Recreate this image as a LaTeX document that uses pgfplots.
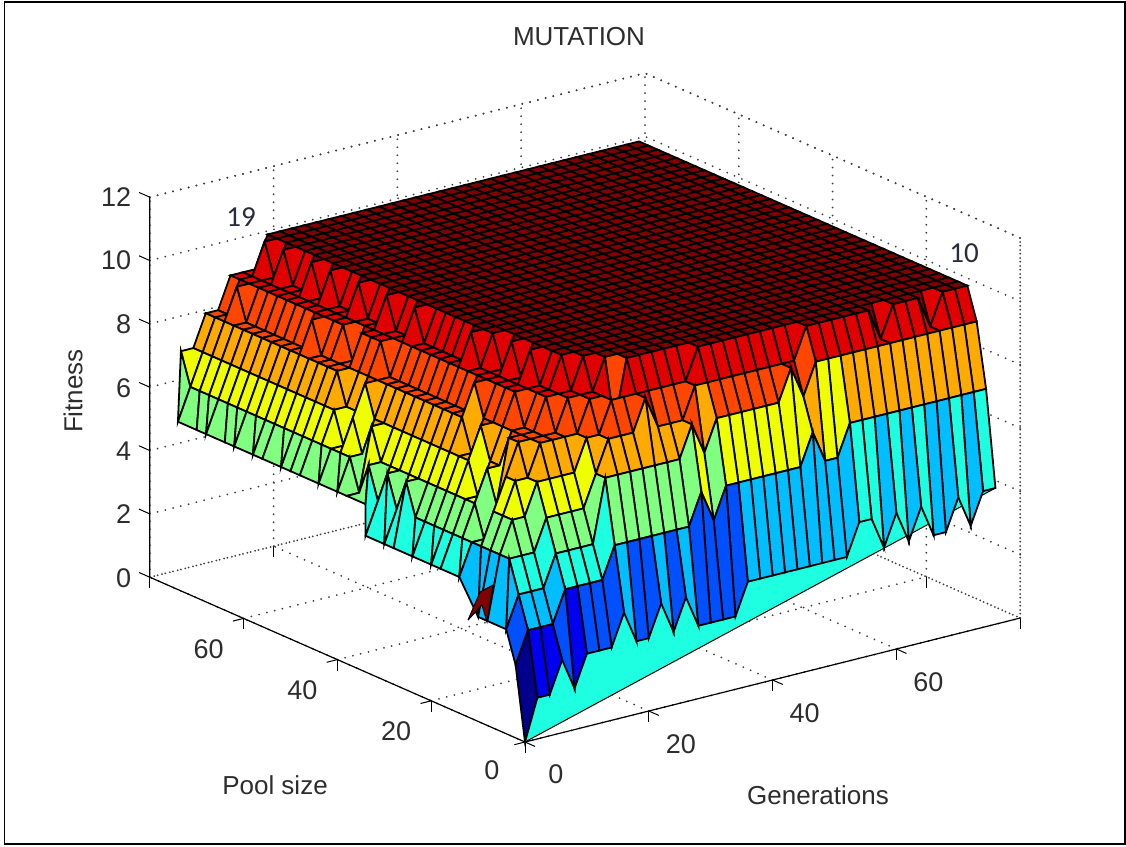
\documentclass[border=0pt]{standalone}
\usepackage{pgfplots}
\pgfplotsset{compat=1.18}
\usepackage{fontspec}
\setmainfont{Liberation Sans}
\newfontfamily\anno{Carlito}
\definecolor{txt}{RGB}{45,45,45}
\begin{document}
\begin{tikzpicture}
\useasboundingbox (0pt,0pt) rectangle (1126pt,-846pt);
\draw[line width=1.6pt] (4.5pt,-2pt) rectangle (1125pt,-844pt);
\begin{axis}[
  at={(525pt,-742pt)},anchor=origin,
  x={(6.19pt,1.55pt)},y={(-4.69pt,2.06pt)},z={(0pt,31.67pt)},
  xmin=0,xmax=80,ymin=0,ymax=80,zmin=0,zmax=12,
  xtick={0,20,40,60},ytick={0,20,40,60},ztick={0,2,4,6,8,10,12},
  axis line style={draw=none},
  grid=major,
  grid style={line width=2pt,line cap=round,dash pattern=on 0pt off 8pt,black!75},
  xtick pos=lower,ytick pos=lower,ztick pos=lower,
  tick align=outside,
  major tick length=11pt,
  tick style={black,line width=1pt},
  ztick style={draw=none},
  /pgf/number format/assume math mode=true,
  tick label style={font=\fontsize{27}{27}\selectfont,text=txt},
  xticklabel style={xshift=12pt,yshift=-14pt},
  yticklabel style={xshift=-12pt,yshift=-12pt},
  zticklabel style={xshift=-5pt,yshift=-6pt},
  clip=false,
  point meta min=0.3,point meta max=10.3,
  colormap={lev}{rgb255(0)=(0,0,140);rgb255(1)=(0,0,240);rgb255(2)=(0,80,255);rgb255(3)=(0,190,255);rgb255(4)=(30,255,225);rgb255(5)=(128,255,128);rgb255(6)=(240,255,0);rgb255(7)=(255,170,0);rgb255(8)=(255,70,0);rgb255(9)=(225,0,0);rgb255(10)=(128,0,0)},
]
\draw[line width=2pt,line cap=round,dash pattern=on 0pt off 8pt,black!75]
  (axis cs:0,80,12)--(axis cs:80,80,12)--(axis cs:80,0,12)--(axis cs:80,0,0)--(axis cs:80,80,0)--(axis cs:0,80,0);
\draw[line width=2pt,line cap=round,dash pattern=on 0pt off 8pt,black!75]
  (axis cs:80,80,0)--(axis cs:80,80,12);
\draw[line width=1.2pt] (axis cs:0,80,12)--(axis cs:0,80,0)--(axis cs:0,0,0)--(axis cs:80,0,0);
\draw[line width=1pt] (axis cs:0,80,0)--(axis cs:0,82.3,0) (axis cs:0,80,2)--(axis cs:0,82.3,2) (axis cs:0,80,4)--(axis cs:0,82.3,4) (axis cs:0,80,6)--(axis cs:0,82.3,6) (axis cs:0,80,8)--(axis cs:0,82.3,8) (axis cs:0,80,10)--(axis cs:0,82.3,10) (axis cs:0,80,12)--(axis cs:0,82.3,12);
\addplot3[patch,patch type=triangle,shader=flat,draw=black,line width=1pt,point meta=explicit]
  coordinates {(0,0,0)[4.3] (76,0,4.3)[4.3] (0,0,5)[4.3]};
\addplot3[surf,shader=flat corner,draw=black,line width=1.8pt,mesh/cols=39,z buffer=sort,point meta=z]
  table[row sep=crcr,header=false,x expr={2*mod(\coordindex,39)},y expr={2*floor(\coordindex/39)},z index=0] {
0.0\\1.3\\1.3\\2.3\\1.3\\2.3\\2.3\\2.3\\3.3\\2.3\\2.3\\3.3\\2.3\\3.3\\2.3\\2.3\\2.3\\2.3\\3.3\\3.3\\3.3\\3.3\\3.3\\3.3\\3.3\\3.3\\3.3\\4.3\\4.3\\3.3\\4.3\\3.3\\4.3\\3.3\\3.3\\4.3\\3.3\\4.3\\4.3\\
2.3\\3.3\\3.3\\3.3\\4.3\\4.3\\4.3\\4.3\\5.3\\5.3\\5.3\\5.3\\5.3\\5.3\\5.3\\6.3\\5.3\\6.3\\6.3\\6.3\\6.3\\6.3\\6.3\\6.3\\7.3\\6.3\\6.3\\7.3\\7.3\\7.3\\7.3\\7.3\\7.3\\7.3\\7.3\\7.3\\7.3\\7.3\\7.3\\
3.3\\4.3\\4.3\\4.3\\5.3\\5.3\\5.3\\5.3\\7.3\\7.3\\7.3\\7.3\\7.3\\7.3\\7.3\\8.3\\7.3\\8.3\\8.3\\8.3\\8.3\\8.3\\8.3\\9.3\\8.3\\9.3\\9.3\\9.3\\9.3\\9.3\\9.3\\9.3\\9.3\\9.3\\9.3\\9.3\\9.3\\9.3\\9.3\\
3.3\\5.3\\5.3\\5.3\\6.3\\6.3\\6.3\\6.3\\7.3\\8.3\\8.3\\8.3\\9.3\\8.3\\8.3\\8.3\\9.3\\9.3\\9.3\\9.3\\9.3\\9.3\\9.3\\9.3\\9.3\\10.3\\10.3\\10.3\\10.3\\10.3\\10.3\\9.3\\10.3\\10.3\\10.3\\9.3\\10.3\\10.3\\10.3\\
3.3\\5.3\\6.3\\6.3\\7.3\\7.3\\7.3\\7.3\\8.3\\8.3\\9.3\\9.3\\9.3\\9.3\\9.3\\9.3\\9.3\\10.3\\10.3\\10.3\\10.3\\10.3\\10.3\\10.3\\10.3\\10.3\\10.3\\10.3\\10.3\\10.3\\10.3\\10.3\\10.3\\10.3\\10.3\\10.3\\10.3\\10.3\\10.3\\
3.3\\5.3\\6.3\\7.3\\7.3\\8.3\\8.3\\8.3\\8.3\\9.3\\9.3\\8.3\\10.3\\10.3\\10.3\\10.3\\10.3\\10.3\\10.3\\10.3\\10.3\\10.3\\10.3\\10.3\\10.3\\10.3\\10.3\\10.3\\10.3\\10.3\\10.3\\10.3\\10.3\\10.3\\10.3\\10.3\\10.3\\10.3\\10.3\\
3.3\\5.3\\6.3\\7.3\\8.3\\8.3\\8.3\\8.3\\9.3\\9.3\\9.3\\10.3\\10.3\\10.3\\10.3\\10.3\\10.3\\10.3\\10.3\\10.3\\10.3\\10.3\\10.3\\10.3\\10.3\\10.3\\10.3\\10.3\\10.3\\10.3\\10.3\\10.3\\10.3\\10.3\\10.3\\10.3\\10.3\\10.3\\10.3\\
4.3\\5.3\\5.3\\6.3\\8.3\\8.3\\8.3\\9.3\\9.3\\9.3\\10.3\\10.3\\10.3\\10.3\\10.3\\10.3\\10.3\\10.3\\10.3\\10.3\\10.3\\10.3\\10.3\\10.3\\10.3\\10.3\\10.3\\10.3\\10.3\\10.3\\10.3\\10.3\\10.3\\10.3\\10.3\\10.3\\10.3\\10.3\\10.3\\
4.3\\5.3\\6.3\\7.3\\7.3\\8.3\\8.3\\9.3\\9.3\\10.3\\10.3\\10.3\\10.3\\10.3\\10.3\\10.3\\10.3\\10.3\\10.3\\10.3\\10.3\\10.3\\10.3\\10.3\\10.3\\10.3\\10.3\\10.3\\10.3\\10.3\\10.3\\10.3\\10.3\\10.3\\10.3\\10.3\\10.3\\10.3\\10.3\\
4.3\\5.3\\6.3\\6.3\\7.3\\8.3\\9.3\\9.3\\9.3\\10.3\\10.3\\10.3\\10.3\\10.3\\10.3\\10.3\\10.3\\10.3\\10.3\\10.3\\10.3\\10.3\\10.3\\10.3\\10.3\\10.3\\10.3\\10.3\\10.3\\10.3\\10.3\\10.3\\10.3\\10.3\\10.3\\10.3\\10.3\\10.3\\10.3\\
4.3\\5.3\\6.3\\7.3\\8.3\\8.3\\9.3\\9.3\\10.3\\10.3\\10.3\\10.3\\10.3\\10.3\\10.3\\10.3\\10.3\\10.3\\10.3\\10.3\\10.3\\10.3\\10.3\\10.3\\10.3\\10.3\\10.3\\10.3\\10.3\\10.3\\10.3\\10.3\\10.3\\10.3\\10.3\\10.3\\10.3\\10.3\\10.3\\
4.3\\5.3\\6.3\\7.3\\7.3\\8.3\\9.3\\9.3\\9.3\\10.3\\10.3\\10.3\\10.3\\10.3\\10.3\\10.3\\10.3\\10.3\\10.3\\10.3\\10.3\\10.3\\10.3\\10.3\\10.3\\10.3\\10.3\\10.3\\10.3\\10.3\\10.3\\10.3\\10.3\\10.3\\10.3\\10.3\\10.3\\10.3\\10.3\\
4.3\\5.3\\6.3\\7.3\\8.3\\9.3\\9.3\\9.3\\10.3\\10.3\\10.3\\10.3\\10.3\\10.3\\10.3\\10.3\\10.3\\10.3\\10.3\\10.3\\10.3\\10.3\\10.3\\10.3\\10.3\\10.3\\10.3\\10.3\\10.3\\10.3\\10.3\\10.3\\10.3\\10.3\\10.3\\10.3\\10.3\\10.3\\10.3\\
4.3\\5.3\\6.3\\7.3\\8.3\\8.3\\9.3\\9.3\\9.3\\10.3\\10.3\\10.3\\10.3\\10.3\\10.3\\10.3\\10.3\\10.3\\10.3\\10.3\\10.3\\10.3\\10.3\\10.3\\10.3\\10.3\\10.3\\10.3\\10.3\\10.3\\10.3\\10.3\\10.3\\10.3\\10.3\\10.3\\10.3\\10.3\\10.3\\
4.3\\6.3\\6.3\\7.3\\8.3\\8.3\\9.3\\9.3\\10.3\\10.3\\10.3\\10.3\\10.3\\10.3\\10.3\\10.3\\10.3\\10.3\\10.3\\10.3\\10.3\\10.3\\10.3\\10.3\\10.3\\10.3\\10.3\\10.3\\10.3\\10.3\\10.3\\10.3\\10.3\\10.3\\10.3\\10.3\\10.3\\10.3\\10.3\\
4.3\\5.3\\6.3\\7.3\\8.3\\8.3\\9.3\\10.3\\10.3\\10.3\\10.3\\10.3\\10.3\\10.3\\10.3\\10.3\\10.3\\10.3\\10.3\\10.3\\10.3\\10.3\\10.3\\10.3\\10.3\\10.3\\10.3\\10.3\\10.3\\10.3\\10.3\\10.3\\10.3\\10.3\\10.3\\10.3\\10.3\\10.3\\10.3\\
4.3\\6.3\\6.3\\7.3\\8.3\\8.3\\9.3\\9.3\\10.3\\10.3\\10.3\\10.3\\10.3\\10.3\\10.3\\10.3\\10.3\\10.3\\10.3\\10.3\\10.3\\10.3\\10.3\\10.3\\10.3\\10.3\\10.3\\10.3\\10.3\\10.3\\10.3\\10.3\\10.3\\10.3\\10.3\\10.3\\10.3\\10.3\\10.3\\
4.3\\5.3\\6.3\\7.3\\8.3\\8.3\\9.3\\9.3\\10.3\\10.3\\10.3\\10.3\\10.3\\10.3\\10.3\\10.3\\10.3\\10.3\\10.3\\10.3\\10.3\\10.3\\10.3\\10.3\\10.3\\10.3\\10.3\\10.3\\10.3\\10.3\\10.3\\10.3\\10.3\\10.3\\10.3\\10.3\\10.3\\10.3\\10.3\\
5.3\\6.3\\6.3\\7.3\\8.3\\8.3\\9.3\\9.3\\10.3\\10.3\\10.3\\10.3\\10.3\\10.3\\10.3\\10.3\\10.3\\10.3\\10.3\\10.3\\10.3\\10.3\\10.3\\10.3\\10.3\\10.3\\10.3\\10.3\\10.3\\10.3\\10.3\\10.3\\10.3\\10.3\\10.3\\10.3\\10.3\\10.3\\10.3\\
5.3\\5.3\\7.3\\7.3\\8.3\\8.3\\9.3\\9.3\\10.3\\10.3\\10.3\\10.3\\10.3\\10.3\\10.3\\10.3\\10.3\\10.3\\10.3\\10.3\\10.3\\10.3\\10.3\\10.3\\10.3\\10.3\\10.3\\10.3\\10.3\\10.3\\10.3\\10.3\\10.3\\10.3\\10.3\\10.3\\10.3\\10.3\\10.3\\
5.3\\6.3\\6.3\\7.3\\8.3\\8.3\\9.3\\9.3\\10.3\\10.3\\10.3\\10.3\\10.3\\10.3\\10.3\\10.3\\10.3\\10.3\\10.3\\10.3\\10.3\\10.3\\10.3\\10.3\\10.3\\10.3\\10.3\\10.3\\10.3\\10.3\\10.3\\10.3\\10.3\\10.3\\10.3\\10.3\\10.3\\10.3\\10.3\\
5.3\\6.3\\7.3\\8.3\\8.3\\8.3\\9.3\\10.3\\10.3\\10.3\\10.3\\10.3\\10.3\\10.3\\10.3\\10.3\\10.3\\10.3\\10.3\\10.3\\10.3\\10.3\\10.3\\10.3\\10.3\\10.3\\10.3\\10.3\\10.3\\10.3\\10.3\\10.3\\10.3\\10.3\\10.3\\10.3\\10.3\\10.3\\10.3\\
5.3\\6.3\\6.3\\7.3\\8.3\\9.3\\9.3\\9.3\\10.3\\10.3\\10.3\\10.3\\10.3\\10.3\\10.3\\10.3\\10.3\\10.3\\10.3\\10.3\\10.3\\10.3\\10.3\\10.3\\10.3\\10.3\\10.3\\10.3\\10.3\\10.3\\10.3\\10.3\\10.3\\10.3\\10.3\\10.3\\10.3\\10.3\\10.3\\
5.3\\6.3\\7.3\\7.3\\8.3\\9.3\\9.3\\9.3\\10.3\\10.3\\10.3\\10.3\\10.3\\10.3\\10.3\\10.3\\10.3\\10.3\\10.3\\10.3\\10.3\\10.3\\10.3\\10.3\\10.3\\10.3\\10.3\\10.3\\10.3\\10.3\\10.3\\10.3\\10.3\\10.3\\10.3\\10.3\\10.3\\10.3\\10.3\\
5.3\\6.3\\7.3\\8.3\\8.3\\9.3\\9.3\\10.3\\10.3\\10.3\\10.3\\10.3\\10.3\\10.3\\10.3\\10.3\\10.3\\10.3\\10.3\\10.3\\10.3\\10.3\\10.3\\10.3\\10.3\\10.3\\10.3\\10.3\\10.3\\10.3\\10.3\\10.3\\10.3\\10.3\\10.3\\10.3\\10.3\\10.3\\10.3\\
5.3\\6.3\\7.3\\8.3\\8.3\\8.3\\9.3\\9.3\\10.3\\10.3\\10.3\\10.3\\10.3\\10.3\\10.3\\10.3\\10.3\\10.3\\10.3\\10.3\\10.3\\10.3\\10.3\\10.3\\10.3\\10.3\\10.3\\10.3\\10.3\\10.3\\10.3\\10.3\\10.3\\10.3\\10.3\\10.3\\10.3\\10.3\\10.3\\
5.3\\6.3\\7.3\\8.3\\8.3\\9.3\\9.3\\9.3\\10.3\\10.3\\10.3\\10.3\\10.3\\10.3\\10.3\\10.3\\10.3\\10.3\\10.3\\10.3\\10.3\\10.3\\10.3\\10.3\\10.3\\10.3\\10.3\\10.3\\10.3\\10.3\\10.3\\10.3\\10.3\\10.3\\10.3\\10.3\\10.3\\10.3\\10.3\\
5.3\\6.3\\7.3\\8.3\\8.3\\9.3\\9.3\\10.3\\10.3\\10.3\\10.3\\10.3\\10.3\\10.3\\10.3\\10.3\\10.3\\10.3\\10.3\\10.3\\10.3\\10.3\\10.3\\10.3\\10.3\\10.3\\10.3\\10.3\\10.3\\10.3\\10.3\\10.3\\10.3\\10.3\\10.3\\10.3\\10.3\\10.3\\10.3\\
5.3\\6.3\\7.3\\8.3\\9.3\\9.3\\9.3\\9.3\\10.3\\10.3\\10.3\\10.3\\10.3\\10.3\\10.3\\10.3\\10.3\\10.3\\10.3\\10.3\\10.3\\10.3\\10.3\\10.3\\10.3\\10.3\\10.3\\10.3\\10.3\\10.3\\10.3\\10.3\\10.3\\10.3\\10.3\\10.3\\10.3\\10.3\\10.3\\
5.3\\6.3\\7.3\\8.3\\8.3\\9.3\\9.3\\9.3\\10.3\\10.3\\10.3\\10.3\\10.3\\10.3\\10.3\\10.3\\10.3\\10.3\\10.3\\10.3\\10.3\\10.3\\10.3\\10.3\\10.3\\10.3\\10.3\\10.3\\10.3\\10.3\\10.3\\10.3\\10.3\\10.3\\10.3\\10.3\\10.3\\10.3\\10.3\\
5.3\\6.3\\7.3\\8.3\\8.3\\9.3\\9.3\\10.3\\10.3\\10.3\\10.3\\10.3\\10.3\\10.3\\10.3\\10.3\\10.3\\10.3\\10.3\\10.3\\10.3\\10.3\\10.3\\10.3\\10.3\\10.3\\10.3\\10.3\\10.3\\10.3\\10.3\\10.3\\10.3\\10.3\\10.3\\10.3\\10.3\\10.3\\10.3\\
5.3\\6.3\\7.3\\8.3\\8.3\\9.3\\9.3\\9.3\\10.3\\10.3\\10.3\\10.3\\10.3\\10.3\\10.3\\10.3\\10.3\\10.3\\10.3\\10.3\\10.3\\10.3\\10.3\\10.3\\10.3\\10.3\\10.3\\10.3\\10.3\\10.3\\10.3\\10.3\\10.3\\10.3\\10.3\\10.3\\10.3\\10.3\\10.3\\
5.3\\6.3\\7.3\\8.3\\8.3\\9.3\\9.3\\10.3\\10.3\\10.3\\10.3\\10.3\\10.3\\10.3\\10.3\\10.3\\10.3\\10.3\\10.3\\10.3\\10.3\\10.3\\10.3\\10.3\\10.3\\10.3\\10.3\\10.3\\10.3\\10.3\\10.3\\10.3\\10.3\\10.3\\10.3\\10.3\\10.3\\10.3\\10.3\\
5.3\\6.3\\7.3\\8.3\\8.3\\9.3\\9.3\\9.3\\10.3\\10.3\\10.3\\10.3\\10.3\\10.3\\10.3\\10.3\\10.3\\10.3\\10.3\\10.3\\10.3\\10.3\\10.3\\10.3\\10.3\\10.3\\10.3\\10.3\\10.3\\10.3\\10.3\\10.3\\10.3\\10.3\\10.3\\10.3\\10.3\\10.3\\10.3\\
5.3\\6.3\\7.3\\8.3\\8.3\\9.3\\9.3\\9.3\\10.3\\10.3\\10.3\\10.3\\10.3\\10.3\\10.3\\10.3\\10.3\\10.3\\10.3\\10.3\\10.3\\10.3\\10.3\\10.3\\10.3\\10.3\\10.3\\10.3\\10.3\\10.3\\10.3\\10.3\\10.3\\10.3\\10.3\\10.3\\10.3\\10.3\\10.3\\
5.3\\6.3\\7.3\\8.3\\8.3\\9.3\\9.3\\10.3\\10.3\\10.3\\10.3\\10.3\\10.3\\10.3\\10.3\\10.3\\10.3\\10.3\\10.3\\10.3\\10.3\\10.3\\10.3\\10.3\\10.3\\10.3\\10.3\\10.3\\10.3\\10.3\\10.3\\10.3\\10.3\\10.3\\10.3\\10.3\\10.3\\10.3\\10.3\\
5.3\\6.3\\7.3\\8.3\\9.3\\9.3\\9.3\\9.3\\10.3\\10.3\\10.3\\10.3\\10.3\\10.3\\10.3\\10.3\\10.3\\10.3\\10.3\\10.3\\10.3\\10.3\\10.3\\10.3\\10.3\\10.3\\10.3\\10.3\\10.3\\10.3\\10.3\\10.3\\10.3\\10.3\\10.3\\10.3\\10.3\\10.3\\10.3\\
5.3\\6.3\\7.3\\8.3\\8.3\\9.3\\9.3\\10.3\\10.3\\10.3\\10.3\\10.3\\10.3\\10.3\\10.3\\10.3\\10.3\\10.3\\10.3\\10.3\\10.3\\10.3\\10.3\\10.3\\10.3\\10.3\\10.3\\10.3\\10.3\\10.3\\10.3\\10.3\\10.3\\10.3\\10.3\\10.3\\10.3\\10.3\\10.3\\
5.3\\7.3\\7.3\\8.3\\8.3\\9.3\\9.3\\9.3\\10.3\\10.3\\10.3\\10.3\\10.3\\10.3\\10.3\\10.3\\10.3\\10.3\\10.3\\10.3\\10.3\\10.3\\10.3\\10.3\\10.3\\10.3\\10.3\\10.3\\10.3\\10.3\\10.3\\10.3\\10.3\\10.3\\10.3\\10.3\\10.3\\10.3\\10.3\\
};
\addplot3[patch,patch type=triangle,shader=flat,line width=0.4pt,point meta=explicit]
  coordinates {(1.4,14,2.87)[10.3] (3.34,14,3.66)[10.3] (3.66,14,3.24)[10.3]
               (3.34,14,3.66)[10.3] (5.44,14,3.78)[10.3] (3.66,14,3.24)[10.3]
               (3.66,14,3.24)[10.3] (5.44,14,3.78)[10.3] (4.47,14,2.66)[10.3]};
\addplot3[black,line width=1pt,no marks] coordinates {(1.4,14,2.87) (3.34,14,3.66) (5.44,14,3.78) (4.47,14,2.66) (3.66,14,3.24) (1.4,14,2.87)};
\end{axis}
\node[text=txt,font=\fontsize{26}{26}\selectfont] at (579pt,-37pt) {MUTATION};
\node[text=txt,font=\fontsize{26}{26}\selectfont,rotate=90] at (73pt,-391pt) {Fitness};
\node[text=txt,font=\fontsize{26}{26}\selectfont] at (275pt,-785pt) {Pool size};
\node[text=txt,font=\fontsize{26}{26}\selectfont] at (818pt,-795pt) {Generations};
\node[text={rgb,255:red,40;green,45;blue,60},font=\anno\fontsize{29}{29}\selectfont] at (241pt,-217pt) {19};
\node[text={rgb,255:red,40;green,45;blue,60},font=\anno\fontsize{29}{29}\selectfont] at (964pt,-253pt) {10};
\end{tikzpicture}
\end{document}
